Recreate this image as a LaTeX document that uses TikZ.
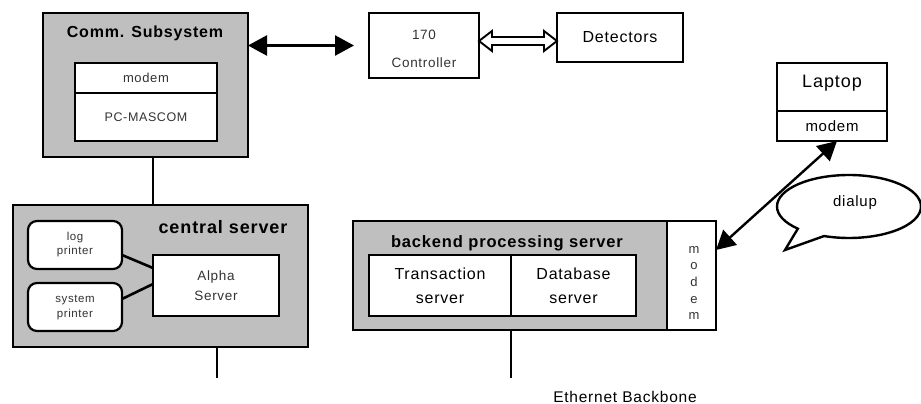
\documentclass[tikz,border=0pt]{standalone}
\usepackage{fontspec}
\setmainfont[LetterSpace=5]{Liberation Sans}
\usetikzlibrary{arrows.meta,calc,shapes.callouts}
\newcommand\myfs[2]{\fontsize{#1}{#2}\selectfont}
\begin{document}
\begin{tikzpicture}[x=1pt,y=-1pt,
 graybox/.style={draw, fill=black!25, line width=2.6pt, inner sep=0pt, outer sep=0pt},
 wbox/.style={draw, fill=white, line width=2.2pt, inner sep=0pt, outer sep=0pt, align=center},
 lbl/.style={inner sep=0pt, align=center},
 conn/.style={line width=2.6pt},
 bigarrows/.style={line width=2.4pt, {Triangle[length=19pt,width=20pt]}-{Triangle[length=19pt,width=20pt]}},
 hollow/.style={draw, fill=white, line width=1.9pt, line join=miter},
 soft/.style={text=black!80}
]
\useasboundingbox (0,0) rectangle (921,404);

% Comm. Subsystem
\node[graybox, minimum width=205pt, minimum height=144pt] (comm) at (145.5,85) {};
\node[lbl, font=\bfseries\myfs{16}{19}] (commtitle) at (145,33) {Comm. Subsystem};
\node[wbox, soft, minimum width=142pt, minimum height=30pt, font=\myfs{13}{15}] (cmodem) at (146,78) {modem};
\node[wbox, soft, minimum width=142pt, minimum height=48pt, font=\myfs{12.5}{15}] (pcm) at (146,117) {PC-MASCOM};

% central server
\node[graybox, minimum width=295pt, minimum height=142pt] (central) at (160.5,276) {};
\node[lbl, font=\bfseries\myfs{18}{21}] (centraltitle) at (223,227) {central server};
\node[wbox, soft, rounded corners=9pt, minimum width=94pt, minimum height=48pt, font=\myfs{11.5}{14}] (logp) at (75,245) {log\\printer};
\node[wbox, soft, rounded corners=9pt, minimum width=94pt, minimum height=48pt, font=\myfs{11.5}{15}] (sysp) at (75,307) {system\\printer};
\node[wbox, soft, minimum width=126pt, minimum height=61pt, font=\myfs{13.5}{20}] (alpha) at (216,285.5) {Alpha\\Server};

% controller and detectors
\node[wbox, minimum width=110pt, minimum height=65pt] (ctrl) at (424,45.5) {};
\node[lbl, soft, font=\myfs{13.5}{28}] (ctrltxt) at (424,49) {170\\Controller};
\node[wbox, minimum width=126pt, minimum height=49pt, font=\myfs{16}{19}] (det) at (620,37.5) {Detectors};

% laptop
\node[wbox, minimum width=110pt, minimum height=48pt] (laptop) at (832,87) {};
\node[lbl, font=\myfs{18}{21}] (laptoptxt) at (832,83) {Laptop};
\node[wbox, minimum width=110pt, minimum height=30pt, font=\myfs{15}{18}] (lmodem) at (832,126) {modem};

% backend
\node[graybox, minimum width=314pt, minimum height=109pt] (backend) at (510,275.5) {};
\node[lbl, font=\bfseries\myfs{16.5}{19}] (backendtitle) at (507,243) {backend processing server};
\node[wbox, minimum width=142pt, minimum height=61pt, font=\myfs{16}{24}] (trans) at (440,285.5) {Transaction\\server};
\node[wbox, minimum width=125pt, minimum height=61pt, font=\myfs{16}{24}] (db) at (573.5,285.5) {Database\\server};
\node[wbox, line width=2.6pt, minimum width=49pt, minimum height=109pt] (bmodem) at (691.5,275.5) {};
\node[lbl, soft, font=\myfs{13}{16.7}] (bmodemtxt) at (694,283) {m\\o\\d\\e\\m};

% dialup callout
\node[ellipse callout, draw, fill=white, line width=2.4pt, minimum width=144pt, minimum height=63pt, inner sep=0pt, callout absolute pointer={(785,250)}, callout pointer arc=25] (dialup) at (849,206.5) {};
\node[lbl, font=\myfs{15}{18}] (dialuptxt) at (855,203) {dialup};

\node[lbl, font=\myfs{15.5}{18}] (eth) at (625,397) {Ethernet Backbone};

% connectors
\coordinate (cbend) at (217,378);
\coordinate (bbend) at (511,378);
\draw[conn] ([xshift=7.5pt]comm.south) -- ([xshift=7.5pt]comm.south |- central.north);
\draw[conn] (central.south -| cbend) -- (cbend);
\draw[conn] (backend.south -| bbend) -- (bbend);
\draw[conn] ([yshift=-10pt]logp.east) -- ([yshift=17.5pt]alpha.west);
\draw[conn] ([yshift=8pt]sysp.east) -- ([yshift=1.5pt]alpha.west);

\draw[bigarrows, shorten >=15pt] (comm.east |- ctrl.west) -- (ctrl.west);
\draw[bigarrows] ([xshift=5pt]lmodem.south) -- ([yshift=25.5pt]bmodem.east);

\coordinate (ha) at ([yshift=4.5pt]ctrl.east);
\coordinate (hb) at ([yshift=-3.5pt]det.west);
\draw[hollow] (ha) -- ($(ha)+(13,-10)$) -- ($(ha)+(13,-4)$) -- ($(hb)+(-13,-4)$) -- ($(hb)+(-13,-10)$) -- (hb) -- ($(hb)+(-13,10)$) -- ($(hb)+(-13,4)$) -- ($(ha)+(13,4)$) -- ($(ha)+(13,10)$) -- cycle;
\end{tikzpicture}
\end{document}
